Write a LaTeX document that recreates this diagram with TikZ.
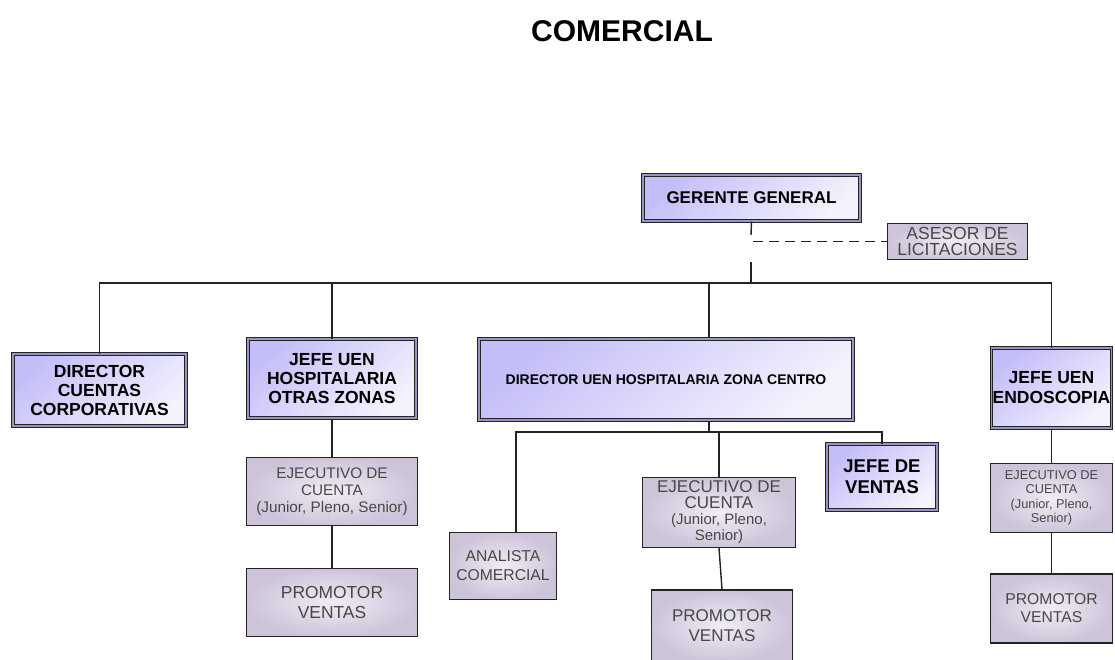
\documentclass[tikz,border=0pt]{standalone}
\usepackage{fontspec}
\setmainfont{Liberation Sans}
\usetikzlibrary{positioning}

\definecolor{lavtop}{RGB}{196,190,248}
\definecolor{lavlow}{RGB}{244,242,253}
\definecolor{lavgap}{RGB}{150,148,200}
\definecolor{greyin}{RGB}{240,236,244}
\definecolor{greyout}{RGB}{206,196,218}
\definecolor{linegrey}{RGB}{35,35,35}

\newcommand\fsz[2]{\fontsize{#1}{#2}\selectfont}

\tikzset{
  chief/.style={draw=linegrey, double=lavgap, line width=1pt, double distance=1.4pt,
                top color=lavtop, bottom color=lavlow, shading angle=40,
                inner sep=1pt, align=center, text=black},
  staff/.style={draw=linegrey, line width=1.3pt, inner color=greyin, outer color=greyout,
                inner sep=1pt, align=center, text=black!72},
  link/.style={draw=linegrey, line width=1.4pt},
}

\begin{document}
\begin{tikzpicture}[x=1pt,y=-1pt]
  \useasboundingbox (0,0) rectangle (1115,659);

  \node[font=\fsz{30}{34}\bfseries] (title) at (622,31) {COMERCIAL};

  % top level
  \node[chief, minimum width=217, minimum height=46, font=\fsz{17}{20}\bfseries]
       (gerente) at (751.5,198) {GERENTE GENERAL};
  \node[staff, minimum width=140, minimum height=36, font=\fsz{17.5}{16}]
       (asesor) at (957.5,241.5) {ASESOR DE\\LICITACIONES};

  % second level
  \node[chief, minimum width=173, minimum height=72, font=\fsz{17.5}{19}\bfseries]
       (dircc) at (99.5,390) {DIRECTOR\\CUENTAS\\CORPORATIVAS};
  \node[chief, minimum width=168, minimum height=79, font=\fsz{17.5}{19}\bfseries]
       (jefeoz) at (332,378.5) {JEFE UEN\\HOSPITALARIA\\OTRAS ZONAS};
  \node[chief, minimum width=374, minimum height=81, font=\fsz{14}{17}\bfseries]
       (dirzc) at (666,379.5) {DIRECTOR UEN HOSPITALARIA ZONA CENTRO};
  \node[chief, minimum width=119, minimum height=80, font=\fsz{17.5}{20}\bfseries]
       (jefeendo) at (1051.5,388) {JEFE UEN\\ENDOSCOPIA};

  % third level
  \node[staff, minimum width=171, minimum height=68, font=\fsz{15.3}{17}]
       (ejeoz) at (332,491.5) {EJECUTIVO DE\\CUENTA\\(Junior, Pleno, Senior)};
  \node[staff, minimum width=171, minimum height=68, font=\fsz{17.4}{20}]
       (promoz) at (332,602.5) {PROMOTOR\\VENTAS};
  \node[staff, minimum width=107, minimum height=67, font=\fsz{15.7}{19}]
       (analista) at (503,566) {ANALISTA\\COMERCIAL};
  \node[staff, minimum width=153, minimum height=70, font=\fsz{17}{16}]
       (ejezc) at (719,512.5) {EJECUTIVO DE\\CUENTA\\{\fsz{15}{16}(Junior, Pleno,}\\{\fsz{15}{16}Senior)}};
  \node[staff, minimum width=141, minimum height=72, font=\fsz{17}{20}]
       (promzc) at (722,626) {PROMOTOR\\VENTAS};
  \node[chief, minimum width=110, minimum height=66, font=\fsz{18.5}{21}\bfseries]
       (jefev) at (882,477) {JEFE DE\\VENTAS};
  \node[staff, minimum width=122, minimum height=69, font=\fsz{12.8}{14.5}]
       (ejeendo) at (1051.5,498) {EJECUTIVO DE\\CUENTA\\(Junior, Pleno,\\Senior)};
  \node[staff, minimum width=122, minimum height=69, font=\fsz{15.7}{18}]
       (promendo) at (1051.5,608.5) {PROMOTOR\\VENTAS};

  % connectors
  \coordinate (gstub) at (751,235);
  \coordinate (gdash) at (753,241.5);
  \coordinate (gbus) at (751,262);
  \coordinate (bus) at (751,283);
  \coordinate (dzcin) at (709,337);
  \coordinate (zcbus) at (709,432);

  \draw[link] (gerente.south) -- (gstub);
  \draw[link, dash pattern=on 10pt off 6pt] (gdash) -- (asesor.west);
  \draw[link] (gbus) -- (bus);
  \draw[link] (bus) -| (dircc.north);
  \draw[link] (bus) -| (jefeoz.north);
  \draw[link] (bus) -| (dzcin);
  \draw[link] (bus) -| (jefeendo.north);

  \draw[link] (dirzc.south -| dzcin) -- (zcbus);
  \draw[link] (zcbus) -| ([xshift=13pt]analista.north);
  \draw[link] (zcbus) -| (ejezc.north);
  \draw[link] (zcbus) -| (jefev.north);
  \draw[link] (ejezc.south) -- (promzc.north);

  \draw[link] (jefeoz.south) -- (ejeoz.north);
  \draw[link] (ejeoz.south) -- (promoz.north);
  \draw[link] (jefeendo.south) -- (ejeendo.north);
  \draw[link] (ejeendo.south) -- (promendo.north);
\end{tikzpicture}
\end{document}
